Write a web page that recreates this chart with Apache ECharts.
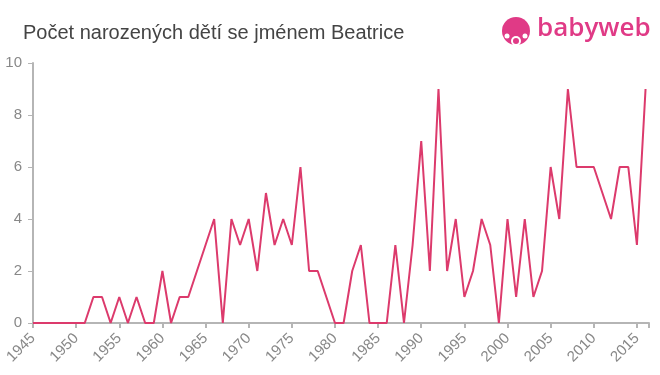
<!DOCTYPE html>
<html>
<head>
<meta charset="utf-8">
<script src="https://cdn.jsdelivr.net/npm/echarts@6/dist/echarts.min.js"></script>
<style>html,body{margin:0;padding:0;background:#fff}#c{width:660px;height:375px}</style>
</head>
<body>
<div id="c"></div>
<script>
const years = [1945,1946,1947,1948,1949,1950,1951,1952,1953,1954,1955,1956,1957,1958,1959,1960,1961,1962,1963,1964,1965,1966,1967,1968,1969,1970,1971,1972,1973,1974,1975,1976,1977,1978,1979,1980,1981,1982,1983,1984,1985,1986,1987,1988,1989,1990,1991,1992,1993,1994,1995,1996,1997,1998,1999,2000,2001,2002,2003,2004,2005,2006,2007,2008,2009,2010,2011,2012,2013,2014,2015,2016];
const counts = [0,0,0,0,0,0,0,1,1,0,1,0,1,0,0,2,0,1,1,2,3,4,0,4,3,4,2,5,3,4,3,6,2,2,1,0,0,2,3,0,0,0,3,0,3,7,2,9,2,4,1,2,4,3,0,4,1,4,1,2,6,4,9,6,6,6,5,4,6,6,3,9];
const xTicks = [1945,1950,1955,1960,1965,1970,1975,1980,1985,1990,1995,2000,2005,2010,2015];
const yTicks = [0,2,4,6,8,10];
const title = 'Počet narozených dětí se jménem Beatrice';

const chart = echarts.init(document.getElementById('c'));
chart.setOption({
  animation: false,
  title: {
    text: title, left: 18, top: 18,
    textStyle: {fontFamily: 'Liberation Sans, Arial, sans-serif', fontSize: 20, fontWeight: 'normal', color: '#444'}
  },
  graphic: [
    {type: 'circle', shape: {cx: 516, cy: 31, r: 14}, style: {fill: '#e03a86'}},
    {type: 'circle', shape: {cx: 516, cy: 41, r: 5}, style: {fill: '#fff'}},
    {type: 'circle', shape: {cx: 516, cy: 41, r: 3}, style: {fill: '#e03a86'}},
    {type: 'circle', shape: {cx: 507, cy: 36, r: 2.5}, style: {fill: '#fff'}},
    {type: 'circle', shape: {cx: 525, cy: 36, r: 2.5}, style: {fill: '#fff'}},
    {type: 'text', left: 537, top: 16, style: {text: 'babyweb', fill: '#e03a86', font: '600 26px "Open Sans", "Noto Sans", sans-serif'}}
  ],
  grid: {left: 33, right: 11, top: 63, bottom: 52, containLabel: false},
  xAxis: {
    type: 'value', min: 1945, max: 2016.4, interval: 5,
    axisLine: {lineStyle: {color: '#b5b5b5', width: 2}},
    axisTick: {show: true, length: 5, lineStyle: {color: '#b5b5b5', width: 2}},
    axisLabel: {customValues: xTicks, formatter: v => String(v), rotate: 45, color: '#888', fontSize: 15, fontFamily: 'Liberation Sans, Arial, sans-serif', margin: 13},
    splitLine: {show: false}
  },
  yAxis: {
    type: 'value', min: 0, max: 10, interval: 2,
    axisLine: {show: true, lineStyle: {color: '#b5b5b5', width: 2}},
    axisTick: {show: true, length: 5, lineStyle: {color: '#b5b5b5', width: 1}},
    axisLabel: {color: '#888', fontSize: 15, fontFamily: 'Liberation Sans, Arial, sans-serif', margin: 11},
    splitLine: {show: false}
  },
  series: [{
    type: 'line',
    data: years.map((y, i) => [y, counts[i]]),
    showSymbol: false,
    lineStyle: {color: '#dc3a6c', width: 2},
    itemStyle: {color: '#dc3a6c'}
  }]
});
</script>
</body>
</html>
